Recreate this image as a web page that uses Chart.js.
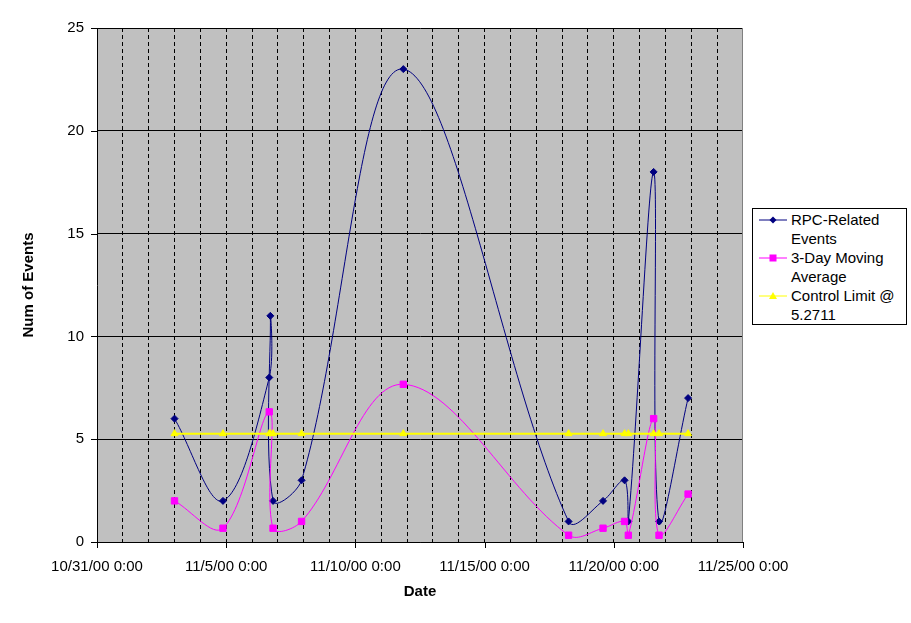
<!DOCTYPE html>
<html><head><meta charset="utf-8">
<script src="https://cdn.jsdelivr.net/npm/chart.js@4.4.1/dist/chart.umd.min.js"></script>
<style>
html,body{margin:0;padding:0;background:#fff;}
#wrap{position:relative;width:911px;height:623px;overflow:hidden;}
#legend{position:absolute;left:752px;top:208px;width:153px;height:115px;border:1px solid #000;background:#fff;font-family:"Liberation Sans",Arial,sans-serif;font-size:15px;color:#000;}
.item{position:absolute;left:38px;line-height:19px;white-space:nowrap;}
.sym{position:absolute;left:6px;}
</style></head><body>
<div id="wrap"><canvas id="c" width="911" height="623"></canvas>
<div id="legend">
  <svg class="sym" style="top:5px" width="28" height="12"><line x1="0" y1="6" x2="28" y2="6" stroke="#000080" stroke-width="1"/><polygon points="14,2.5 17.5,6 14,9.5 10.5,6" fill="#000080"/></svg>
  <div class="item" style="top:1px">RPC-Related<br>Events</div>
  <svg class="sym" style="top:43px" width="28" height="12"><line x1="0" y1="6" x2="28" y2="6" stroke="#FF00FF" stroke-width="1"/><rect x="10.5" y="2.5" width="7" height="7" fill="#FF00FF"/></svg>
  <div class="item" style="top:39px">3-Day Moving<br>Average</div>
  <svg class="sym" style="top:81px" width="28" height="12"><line x1="0" y1="6" x2="28" y2="6" stroke="#FFFF00" stroke-width="1"/><polygon points="14,2 18,9 10,9" fill="#FFFF00"/></svg>
  <div class="item" style="top:77px">Control Limit @<br>5.2711</div>
</div></div>
<script>
const xTickLabels = ["10/31/00 0:00","11/5/00 0:00","11/10/00 0:00","11/15/00 0:00","11/20/00 0:00","11/25/00 0:00"];
const rpcDates = ["11/3/00 0:00","11/4/00 21:00","11/6/00 16:00","11/6/00 17:00","11/6/00 19:30","11/7/00 22:00","11/11/00 20:30","11/18/00 6:00","11/19/00 14:00","11/20/00 10:00","11/20/00 13:30","11/21/00 13:00","11/21/00 18:00","11/22/00 21:00"];
const rpcEvents = [6,2,8,11,2,3,23,1,2,3,1,18,1,7];
const maDates = ["11/3/00 0:00","11/4/00 21:00","11/6/00 16:00","11/6/00 19:30","11/7/00 22:00","11/11/00 20:30","11/18/00 6:00","11/19/00 14:00","11/20/00 10:00","11/20/00 13:30","11/21/00 13:00","11/21/00 18:00","11/22/00 21:00"];
const maValues = [2,0.67,6.33,0.67,1,7.67,0.33,0.67,1,0.33,6,0.33,2.33];
const limitDates = rpcDates;
const limitValues = [5.2711,5.2711,5.2711,5.2711,5.2711,5.2711,5.2711,5.2711,5.2711,5.2711,5.2711,5.2711,5.2711,5.2711];

function dayOffset(s){
  const [d,t] = s.split(' ');
  const [m,dd,yy] = d.split('/').map(Number);
  const [h,mi] = t.split(':').map(Number);
  return (Date.UTC(2000+yy,m-1,dd,h,mi) - Date.UTC(2000,9,31,0,0)) / 86400000;
}
function pts(dates, vals){ return dates.map((d,i)=>({x:dayOffset(d), y:vals[i]})); }

const FONT = '"Liberation Sans", Arial, sans-serif';
Chart.defaults.font.family = FONT;
Chart.defaults.font.size = 15;
Chart.defaults.color = '#000';

const bgPlugin = {
  id:'bg',
  beforeDraw(chart){
    const {ctx, chartArea:a} = chart;
    ctx.save(); ctx.fillStyle = '#C0C0C0';
    ctx.fillRect(a.left, a.top, a.right-a.left, a.bottom-a.top);
    ctx.restore();
  },
  beforeDatasetsDraw(chart){
    const {ctx, chartArea:a} = chart;
    ctx.save(); ctx.strokeStyle = '#808080'; ctx.lineWidth = 1;
    ctx.beginPath(); ctx.moveTo(Math.round(a.right)-0.5, a.top); ctx.lineTo(Math.round(a.right)-0.5, a.bottom); ctx.stroke();
    ctx.restore();
  },
  afterDraw(chart){
    const {ctx, chartArea:a, scales:{x,y}} = chart;
    ctx.save(); ctx.strokeStyle = '#000'; ctx.lineWidth = 1; ctx.beginPath();
    y.ticks.forEach(t=>{ const py = Math.round(y.getPixelForValue(t.value))+0.5; ctx.moveTo(a.left-6, py); ctx.lineTo(a.left, py); });
    x.ticks.forEach(t=>{ if (t.value % 5 === 0){ const px = Math.round(x.getPixelForValue(t.value))+0.5; ctx.moveTo(px, a.bottom); ctx.lineTo(px, a.bottom+6); } });
    ctx.stroke(); ctx.restore();
  }
};

new Chart(document.getElementById('c'), {
  type:'line',
  data:{ datasets:[
    { label:'RPC-Related Events', data:pts(rpcDates,rpcEvents), borderColor:'#000080', backgroundColor:'#000080', borderWidth:1,
      pointStyle:'rectRot', pointRadius:3.5, pointBorderWidth:1, tension:0.35, order:3 },
    { label:'3-Day Moving Average', data:pts(maDates,maValues), borderColor:'#FF00FF', backgroundColor:'#FF00FF', borderWidth:1,
      pointStyle:'rect', pointRadius:4.5, pointBorderWidth:1, tension:0.35, order:2 },
    { label:'Control Limit @ 5.2711', data:pts(limitDates,limitValues), borderColor:'#FFFF00', backgroundColor:'#FFFF00', borderWidth:2,
      pointStyle:'triangle', pointRadius:4, pointBorderWidth:1, tension:0, order:1 }
  ]},
  options:{
    responsive:false, animation:false, events:[],
    layout:{ padding:{ left:0, top:28, right:168, bottom:0 } },
    plugins:{ legend:{display:false}, tooltip:{enabled:false} },
    scales:{
      x:{ type:'linear', min:0, max:25,
        afterFit(s){ s.height = 81; },
        ticks:{ stepSize:1, autoSkip:false, maxRotation:0, minRotation:0, padding:16,
          callback:(v)=> (v % 5 === 0 ? xTickLabels[v/5] : '') },
        grid:{ drawTicks:false, lineWidth:1,
          color:(c)=> (c.tick && (c.tick.value===0 || c.tick.value===25)) ? 'rgba(0,0,0,0)' : '#000' },
        border:{ display:true, color:'#000', width:1, dash:[4,3] },
        title:{ display:true, text:'Date', font:{ size:15, weight:'bold' }, padding:{ top:0, bottom:22 } }
      },
      y:{ min:0, max:25,
        afterFit(s){ s.width = 97; },
        ticks:{ stepSize:5, padding:13 },
        grid:{ drawTicks:false, color:'#000', lineWidth:1 },
        border:{ display:true, color:'#000', width:1 },
        title:{ display:true, text:'Num of Events', font:{ size:15, weight:'bold' }, padding:{ top:19.5, bottom:0 } }
      }
    }
  },
  plugins:[bgPlugin]
});
</script>
</body></html>
